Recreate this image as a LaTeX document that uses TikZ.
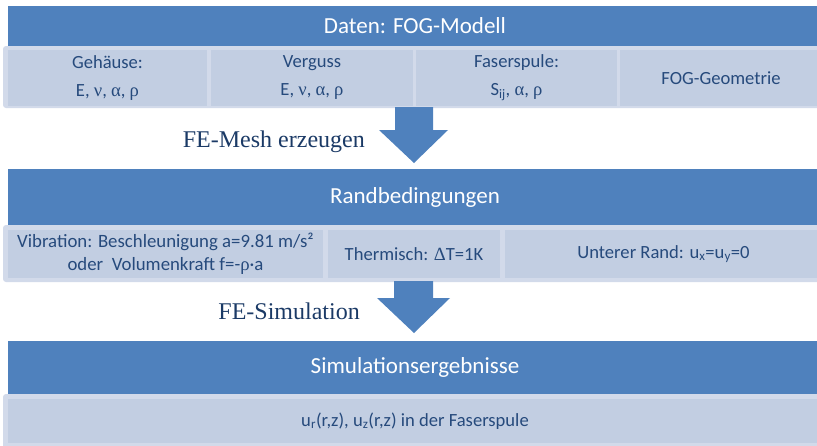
\documentclass[tikz,border=0pt]{standalone}
\usepackage{fontspec}
\setmainfont{Carlito}
\newfontfamily\serifgr{Liberation Serif}
\usetikzlibrary{calc}
\definecolor{barblue}{HTML}{4F81BD}
\definecolor{celllight}{HTML}{C2CEE2}
\definecolor{rowedge}{HTML}{D2DAEA}
\definecolor{celltext}{HTML}{264A7C}
\definecolor{labeltext}{HTML}{1B3A66}
\newcommand{\gk}[1]{{\serifgr #1}}
\tikzset{
  bar/.style={fill=barblue, text=white, font=\fontsize{23}{27}\selectfont,
    anchor=north west, inner sep=0pt, outer sep=0pt},
  cellbox/.style={fill=celllight, text=celltext, font=\fontsize{18.6}{28}\selectfont,
    anchor=north west, inner sep=0pt, outer sep=0pt, align=center},
  rowbg/.style={fill=rowedge, rounded corners=3pt},
  blockarrow/.style={fill=barblue},
  steplabel/.style={font=\serifgr\fontsize{24}{28}\selectfont, text=labeltext,
    anchor=base east, inner sep=0pt}
}
\begin{document}
\begin{tikzpicture}[x=1pt,y=-1pt]
\useasboundingbox (0,0) rectangle (817,445);
\clip (0,0) rectangle (817,445);

% ---- Section 1
\node[bar, minimum width=814pt, minimum height=40pt] (daten) at (8,6) {Daten: FOG-Modell};
\fill[rowbg] (3,46) rectangle (830,108);
\node[cellbox, minimum width=199pt, minimum height=56pt] (gehaeuse) at (8,50)
  {Gehäuse:\\E, \gk{ν}, \gk{α}, \gk{ρ}};
\node[cellbox, minimum width=202pt, minimum height=56pt] (verguss) at (211,50)
  {Verguss\\E, \gk{ν}, \gk{α}, \gk{ρ}};
\node[cellbox, minimum width=201pt, minimum height=56pt] (faser) at (416,50)
  {Faserspule:\\S\textsubscript{ij}, \gk{α}, \gk{ρ}};
\node[cellbox, minimum width=202pt, minimum height=56pt] (geom) at (620,50)
  {FOG-Geometrie};

% ---- Section 2
\node[bar, minimum width=814pt, minimum height=56pt] (rand) at (8,169) {Randbedingungen};
\fill[rowbg] (3,225) rectangle (830,282);
\node[cellbox, minimum width=315pt, minimum height=48pt, font=\fontsize{18.8}{23}\selectfont] (vib) at (8,230)
  {Vibration: Beschleunigung a=9.81 m/s²\\oder\ \ Volumenkraft f=-\gk{ρ}·a};
\node[cellbox, minimum width=172pt, minimum height=48pt] (therm) at (328,230)
  {Thermisch: \gk{Δ}T=1K};
\node[cellbox, minimum width=317pt, minimum height=48pt] (unten) at (505,230)
  {Unterer Rand: u\textsubscript{x}=u\textsubscript{y}=0};

% ---- Section 3
\node[bar, minimum width=814pt, minimum height=53pt] (erg) at (8,341) {Simulationsergebnisse};
\fill[rowbg] (3,394) rectangle (830,460);
\node[cellbox, minimum width=814pt, minimum height=44pt] (ur) at (8,399)
  {u\textsubscript{r}(r,z), u\textsubscript{z}(r,z) in der Faserspule};

% ---- Block arrows
\coordinate (a1top) at (414,107);
\coordinate (a1tip) at (414,163);
\fill[blockarrow] ($(a1top)+(-19,0)$) -- ++(0,23) -- ++(-16,0) -- (a1tip)
  -- ($(a1top)+(34,23)$) -- ++(-15,0) -- ++(0,-23) -- cycle;
\coordinate (a2top) at (414,281);
\coordinate (a2tip) at (414,333);
\fill[blockarrow] ($(a2top)+(-20,0)$) -- ++(0,17) -- ++(-17,0) -- (a2tip)
  -- ($(a2top)+(36,17)$) -- ++(-17,0) -- ++(0,-17) -- cycle;

% ---- Step labels
\node[steplabel] (mesh) at (365,147) {FE-Mesh erzeugen};
\node[steplabel] (sim) at (360,319) {FE-Simulation};
\end{tikzpicture}
\end{document}
